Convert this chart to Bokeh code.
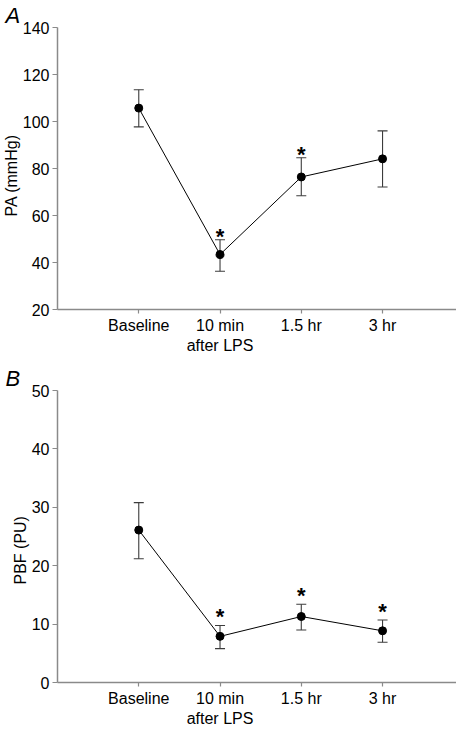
from bokeh.plotting import figure
from bokeh.models import (ColumnDataSource, Range1d, FixedTicker, Whisker, TeeHead, Title)
from bokeh.layouts import column
from bokeh.embed import file_html
from bokeh.resources import INLINE
from bokeh.core.properties import value

# ---- data ----
categories = ["Baseline", "10 min\nafter LPS", "1.5 hr", "3 hr"]

pa_mean = [105.7, 43.4, 76.4, 84.1]
pa_upper = [113.5, 49.7, 84.6, 96.0]
pa_lower = [97.7, 36.3, 68.4, 72.1]
pa_sig = [False, True, True, False]
pa_ticks = [20, 40, 60, 80, 100, 120, 140]

pbf_mean = [26.1, 7.9, 11.3, 8.85]
pbf_upper = [30.8, 9.75, 13.4, 10.7]
pbf_lower = [21.2, 5.8, 9.0, 6.9]
pbf_sig = [False, True, True, True]
pbf_ticks = [0, 10, 20, 30, 40, 50]

FONT = "Liberation Sans"
AXIS_COLOR = "#8a8a8a"
ERR_COLOR = "#3c3c3c"


def make_panel(letter, ylabel, mean, upper, lower, sig, ticks, height, top, bottom,
               star_off, ylabel_off):
    xs = [i + 1 for i in range(len(categories))]
    p = figure(width=456, height=height, output_backend="svg", toolbar_location=None,
               x_range=Range1d(0, 4.91), y_range=Range1d(ticks[0], ticks[-1]),
               min_border_left=55, min_border_right=0, min_border_top=top, min_border_bottom=bottom)
    p.outline_line_color = None
    p.xgrid.visible = False
    p.ygrid.visible = False
    p.background_fill_color = "white"
    p.border_fill_color = "white"

    p.title = Title(text=letter, align="left", offset=-52, standoff=0,
                    text_font=FONT, text_font_size="22px", text_font_style="italic",
                    text_color="black", vertical_align="bottom")
    p.add_layout(Title(text=ylabel, align="left", offset=ylabel_off, standoff=0,
                       text_font=FONT, text_font_size="16px", text_font_style="normal",
                       text_color="black", vertical_align="bottom"), "left")

    src = ColumnDataSource(dict(x=xs, mean=mean, upper=upper, lower=lower))
    w = Whisker(source=src, base="x", upper="upper", lower="lower",
                line_color=ERR_COLOR, line_width=1.1,
                upper_head=TeeHead(size=10, line_color=ERR_COLOR, line_width=1.1),
                lower_head=TeeHead(size=10, line_color=ERR_COLOR, line_width=1.1))
    p.add_layout(w)
    p.line("x", "mean", source=src, line_color="black", line_width=1)
    p.scatter("x", "mean", source=src, size=8, fill_color="black", line_color="black")

    sx = [x for x, s in zip(xs, sig) if s]
    sy = [u for u, s in zip(upper, sig) if s]
    p.text(x=sx, y=sy, text=["*"] * len(sx), text_font=value(FONT), text_font_size="22px",
           text_font_style="bold", text_align="center", text_baseline="alphabetic",
           text_color="black", y_offset=star_off)

    # axes
    for ax in (p.xaxis[0], p.yaxis[0]):
        ax.axis_line_color = AXIS_COLOR
        ax.axis_line_width = 1.5
        ax.major_tick_line_color = AXIS_COLOR
        ax.major_tick_line_width = 1.2
        ax.major_tick_in = 0
        ax.minor_tick_line_color = None
        ax.major_label_text_font = FONT
        ax.major_label_text_font_size = "16px"
        ax.major_label_text_color = "black"
    p.xaxis.ticker = FixedTicker(ticks=xs)
    p.xaxis.major_label_overrides = {x: c for x, c in zip(xs, categories)}
    p.xaxis.major_tick_out = 4
    p.xaxis.major_label_standoff = 3
    p.yaxis.ticker = FixedTicker(ticks=ticks)
    p.yaxis.major_tick_out = 5
    p.yaxis.major_label_standoff = 3
    return p


p1 = make_panel("A", "PA (mmHg)", pa_mean, pa_upper, pa_lower, pa_sig, pa_ticks,
                height=356, top=19, bottom=44, star_off=-3, ylabel_off=93)
p2 = make_panel("B", "PBF (PU)", pbf_mean, pbf_upper, pbf_lower, pbf_sig, pbf_ticks,
                height=373, top=34, bottom=44, star_off=-9, ylabel_off=98)

layout = column(p1, p2)
open("out.html", "w").write(file_html(layout, INLINE))
